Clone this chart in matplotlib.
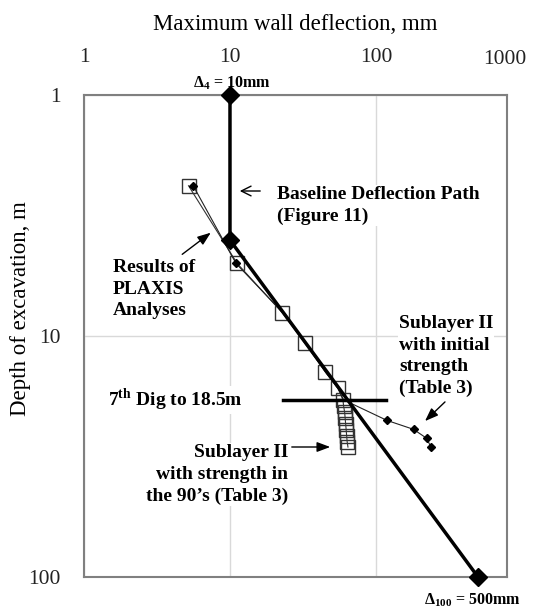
import matplotlib.pyplot as plt

# baseline deflection path (Figure 11)
base_x = [10, 10, 500]
base_y = [1, 4, 100]

# PLAXIS - sublayer II with strength in the 90's (open squares)
sq_x = [5.2, 11.2, 22.8, 32.5, 45, 55, 59.4, 60, 61, 61.5, 62, 62.5, 63, 63.5, 64.3]
sq_y = [2.38, 5.0, 8.0, 10.7, 14.1, 16.5, 18.4, 19.5, 20.7, 21.9, 23.2, 24.5, 26.0, 27.5, 28.9]

# PLAXIS - sublayer II with initial strength (small diamonds)
init_x = [5.6, 11.0, 23, 33, 45, 55, 60, 119, 181, 223, 237]
init_y = [2.38, 5.0, 8.0, 10.7, 14.1, 16.5, 18.4, 22.4, 24.4, 26.6, 28.8]

# 7th dig level
dig_depth = 18.5
dig_x = [23, 117]

x_ticks = [1, 10, 100]
y_ticks = [1, 10, 100]

plt.rcParams['font.family'] = ['Liberation Serif', 'DejaVu Serif']
plt.rcParams['mathtext.fontset'] = 'custom'
plt.rcParams['mathtext.rm'] = 'Liberation Serif'
plt.rcParams['mathtext.bf'] = 'Liberation Serif:bold'

W, H = 542, 610
fig = plt.figure(figsize=(W / 100, H / 100), dpi=100)
ax = fig.add_axes([84 / W, 1 - 577 / H, 423 / W, 482 / H])


def px(x, y):
    # pixel position (from top-left) -> figure fraction
    return (x / W, 1 - y / H)


ax.set_xscale('log')
ax.set_yscale('log')
ax.set_xlim(1, 790)
ax.set_ylim(100, 1)

ax.xaxis.tick_top()
ax.xaxis.set_label_position('top')
ax.set_xticks(x_ticks)
ax.set_xticklabels([str(v) for v in x_ticks])
ax.set_yticks(y_ticks)
ax.set_yticklabels([str(v) for v in y_ticks])
ax.minorticks_off()
ax.tick_params(length=0, labelsize=15.5, colors='#222222')
ax.tick_params(axis='x', pad=20)
ax.tick_params(axis='y', pad=17)
fig.text(*px(505, 60), '1000', ha='center', va='center', fontsize=15.5,
         color='#222222')

ax.set_xlabel('Maximum wall deflection, mm', fontsize=16.5, labelpad=13)
ax.set_ylabel('Depth of excavation, m', fontsize=16.5)
ax.yaxis.set_label_coords((31 - 84) / 423, 1 - (309 - 95) / 482)

ax.grid(True, which='major', color='#d9d9d9', lw=1)
for s in ax.spines.values():
    s.set_color('#808080')
    s.set_linewidth(1.5)

# PLAXIS results
ax.plot(sq_x, sq_y, '-', color='#333333', lw=0.8, marker='s', ms=10,
        mfc='none', mec='#333333', mew=1, zorder=3)
ax.plot(init_x, init_y, '-', color='#222222', lw=0.8, marker='D', ms=4,
        mfc='black', mec='black', markevery=[0, 1, 7, 8, 9, 10], zorder=3)

# baseline
ax.plot(base_x, base_y, '-', color='black', lw=2.5, marker='D', ms=9,
        zorder=4, clip_on=False)

# 7th dig
ax.plot(dig_x, [dig_depth, dig_depth], '-', color='black', lw=2.5, zorder=4)

bold = dict(fontsize=14, fontweight='bold', linespacing=1.36)
wbox = dict(fc='white', ec='none', pad=0.5)
arr_open = dict(arrowstyle='->,head_length=0.7,head_width=0.35', color='black', lw=1)
arr_fill = dict(arrowstyle='-|>,head_length=0.8,head_width=0.3', color='black', lw=1)

fig.text(*px(232, 83), r'$\mathbf{\Delta_4}$ = 10mm', ha='center', va='center',
         fontsize=11.5, fontweight='bold')
fig.text(*px(472, 600), r'$\mathbf{\Delta_{100}}$ = 500mm', ha='center',
         va='center', fontsize=11.5, fontweight='bold')

fig.text(*px(277, 186), 'Baseline Deflection Path\n(Figure 11)', ha='left',
         va='top', bbox=wbox, **bold)
ax.annotate('', xy=px(237, 191), xytext=px(263, 191), xycoords='figure fraction',
            arrowprops=arr_open)

fig.text(*px(113, 259), 'Results of\nPLAXIS\nAnalyses', ha='left', va='top',
         bbox=wbox, **bold)
ax.annotate('', xy=px(213, 231), xytext=px(180, 256), xycoords='figure fraction',
            arrowprops=arr_fill)

fig.text(*px(399, 315), 'Sublayer II\nwith initial\nstrength\n(Table 3)',
         ha='left', va='top', bbox=wbox, **bold)
ax.annotate('', xy=px(423, 423), xytext=px(447, 400), xycoords='figure fraction',
            arrowprops=arr_fill)

fig.text(*px(108, 400), '7$^{\\mathbf{th}}$ Dig to 18.5m', ha='left',
         va='center', bbox=wbox, **bold)

fig.text(*px(288, 444), "Sublayer II\nwith strength in\nthe 90\u2019s (Table 3)",
         ha='right', va='top', multialignment='right', bbox=wbox, **bold)
ax.annotate('', xy=px(333, 447), xytext=px(289, 447), xycoords='figure fraction',
            arrowprops=arr_fill)

fig.savefig('out.png', dpi=100)
